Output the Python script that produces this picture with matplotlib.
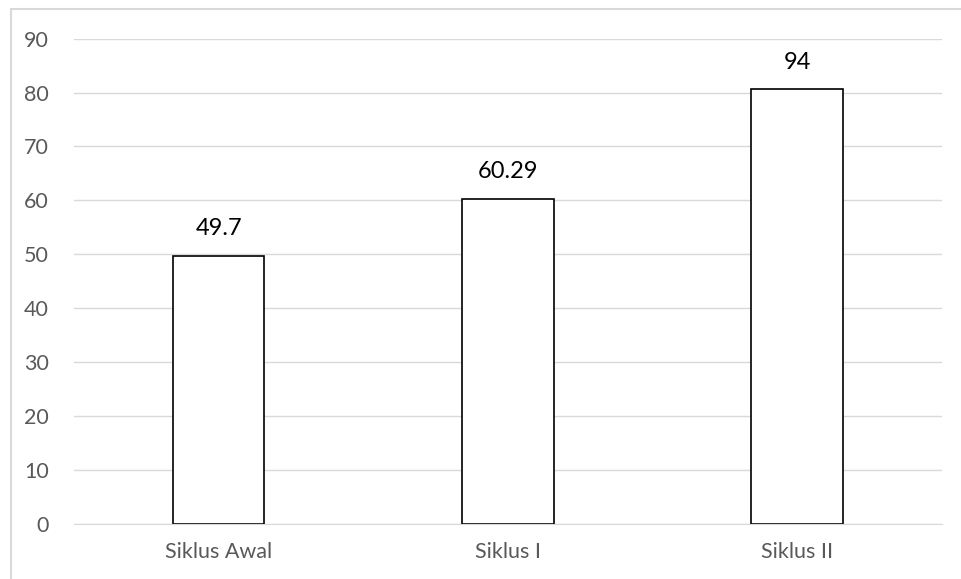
import matplotlib.pyplot as plt
from matplotlib.patches import Rectangle

categories = ['Siklus Awal', 'Siklus I', 'Siklus II']
bar_heights = [49.7, 60.29, 80.6]
bar_labels = ['49.7', '60.29', '94']
y_ticks = [0, 10, 20, 30, 40, 50, 60, 70, 80, 90]

plt.rcParams['font.family'] = ['Lato', 'DejaVu Sans']

fig = plt.figure(figsize=(9.62, 5.79), dpi=100)
ax = fig.add_axes([74.1 / 962, 1 - 523.7 / 579, (941.8 - 74.1) / 962, (523.7 - 38.7) / 579])

# outer chart frame (cropped on the right and bottom in the original)
fig.patches.append(Rectangle((11 / 962, -0.1), 1.2, 1.1 - 9 / 579,
                             transform=fig.transFigure, fill=False,
                             edgecolor='#d9d9d9', linewidth=1.5))

x = range(len(categories))
bars = ax.bar(x, bar_heights, width=0.316, color='white', edgecolor='black',
              linewidth=1.2, zorder=3)

for b, lab in zip(bars, bar_labels):
    ax.annotate(lab, (b.get_x() + b.get_width() / 2, b.get_height()),
                xytext=(0, 12), textcoords='offset points', ha='center',
                va='bottom', fontsize=17, color='black')

ax.set_xlim(-0.5, len(categories) - 0.5)
ax.set_ylim(0, 90)
ax.set_yticks(y_ticks)
ax.set_xticks(list(x))
ax.set_xticklabels(categories)
ax.tick_params(axis='both', length=0, labelsize=15.5, colors='#595959')
ax.tick_params(axis='y', pad=18)
ax.tick_params(axis='x', pad=13)
ax.grid(axis='y', color='#d9d9d9', linewidth=1.0, zorder=0)
for s in ['top', 'right', 'left']:
    ax.spines[s].set_visible(False)
ax.spines['bottom'].set_color('#d9d9d9')
ax.spines['bottom'].set_zorder(4)

fig.savefig('out.png', dpi=100)
